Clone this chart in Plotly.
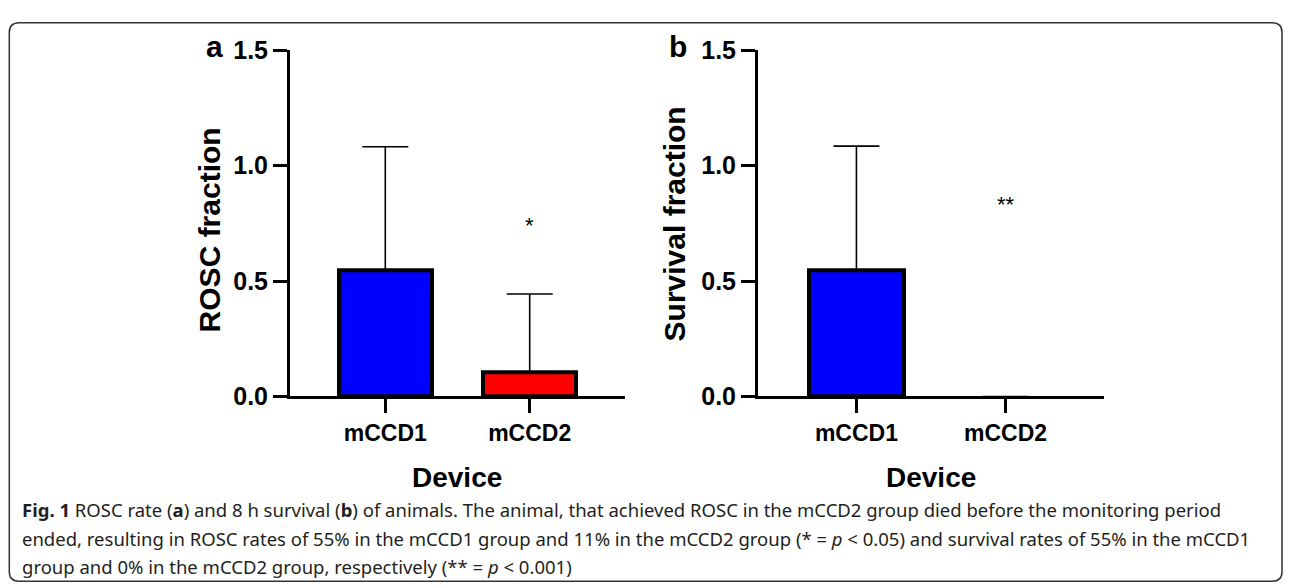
import plotly.graph_objects as go

# ---- data ----
categories = ["mCCD1", "mCCD2"]
rosc_mean = [0.545, 0.105]
rosc_sd = [0.537, 0.339]
surv_mean = [0.545, 0.0]
surv_sd = [0.54, 0.0]
bar_colors = ["#0000ff", "#ff0000"]
y_ticks = [0.0, 0.5, 1.0, 1.5]
sig_a = ("*", 1, 0.74)
sig_b = ("**", 1, 0.83)
caption_lines = [
    "<b>Fig. 1</b> ROSC rate (<b>a</b>) and 8 h survival (<b>b</b>) of animals. The animal, that achieved ROSC in the mCCD2 group died before the monitoring period",
    "ended, resulting in ROSC rates of 55% in the mCCD1 group and 11% in the mCCD2 group (* = <i>p</i> &lt; 0.05) and survival rates of 55% in the mCCD1",
    "group and 0% in the mCCD2 group, respectively (** = <i>p</i> &lt; 0.001)",
]

W, H = 1292, 588
AX_FONT = "Liberation Sans, Arial, sans-serif"
CAP_FONT = "Noto Sans, sans-serif"

# mapping from target screen pixels to paper fractions (as observed in the
# rendered picture: x offset ~6 px, y offset 20.5 px with 0.9575 scale)
OX, SX = 6.0, 1.0
OY, SY = 20.5, 0.9575

def fx(X):
    return ((X - OX) / SX) / W

def fy(Y):
    return 1 - ((Y - OY) / SY) / H

xpos = list(range(len(categories)))

def line_widths(vals):
    return [4 if v > 0 else 0 for v in vals]

def err_vals(means, sds):
    # no error bar where the group has no events
    return [s if m > 0 else None for m, s in zip(means, sds)]

fig = go.Figure()
fig.add_trace(go.Bar(
    x=xpos, y=rosc_mean, width=0.64,
    marker=dict(color=bar_colors, line=dict(color="black", width=line_widths(rosc_mean))),
    error_y=dict(type="data", array=err_vals(rosc_mean, rosc_sd), arrayminus=[0] * len(rosc_sd),
                 symmetric=False, color="black", thickness=1.6, width=23),
    xaxis="x", yaxis="y", showlegend=False,
))
fig.add_trace(go.Bar(
    x=xpos, y=surv_mean, width=0.64,
    marker=dict(color=bar_colors, line=dict(color="black", width=line_widths(surv_mean))),
    error_y=dict(type="data", array=err_vals(surv_mean, surv_sd), arrayminus=[0] * len(surv_sd),
                 symmetric=False, color="black", thickness=1.6, width=23),
    xaxis="x2", yaxis="y2", showlegend=False,
))

xcommon = dict(
    tickvals=xpos, ticktext=categories, range=[-0.66, 1.66],
    showline=True, linewidth=3, linecolor="black",
    ticks="outside", ticklen=14, tickwidth=3, tickcolor="black",
    tickfont=dict(family=AX_FONT, size=23, color="black", weight="bold"),
    showgrid=False, zeroline=False, fixedrange=True,
)
ycommon = dict(
    range=[0, 1.5], tickvals=y_ticks, tickformat=".1f",
    showline=True, linewidth=3, linecolor="black",
    ticks="outside", ticklen=14, tickwidth=3, tickcolor="black",
    tickfont=dict(family=AX_FONT, size=25, color="black", weight="bold"),
    showgrid=False, zeroline=False, fixedrange=True,
)
ydom = [fy(397), fy(49)]

fig.update_layout(
    width=W, height=H, autosize=False,
    margin=dict(l=0, r=0, t=0, b=0),
    paper_bgcolor="white", plot_bgcolor="white",
    xaxis=dict(domain=[fx(288), fx(623)], anchor="y", **xcommon),
    yaxis=dict(domain=ydom, anchor="x", **ycommon),
    xaxis2=dict(domain=[fx(756), fx(1102)], anchor="y2", **xcommon),
    yaxis2=dict(domain=ydom, anchor="x2", **ycommon),
    bargap=0,
)

def label(text, x, y, size, angle=0, xref="paper", yref="paper", family=AX_FONT):
    return dict(text=text, x=x, y=y, xref=xref, yref=yref, textangle=angle,
                xanchor="center", yanchor="middle", showarrow=False,
                font=dict(family=family, size=size, color="black"))

ann = [
    label("<b>a</b>", fx(212), fy(45), 30),
    label("<b>b</b>", fx(676), fy(45), 30),
    label("<b>ROSC fraction</b>", fx(207), fy(230), 30, -90),
    label("<b>Survival fraction</b>", fx(672), fy(224), 30, -90),
    label("<b>Device</b>", fx(455), fy(478), 28),
    label("<b>Device</b>", fx(929), fy(478), 28),
    label(sig_a[0], sig_a[1], sig_a[2], 22, xref="x", yref="y"),
    label(sig_b[0], sig_b[1], sig_b[2], 22, xref="x2", yref="y2"),
]
for i, (line, yy) in enumerate(zip(caption_lines, [511, 540, 568])):
    ann.append(dict(text=line, x=fx(18), y=fy(yy), xref="paper", yref="paper",
                    xanchor="left", yanchor="middle", showarrow=False,
                    font=dict(family=CAP_FONT, size=18.5, color="#231f20")))
fig.update_layout(annotations=ann)

# rounded frame around the figure and caption
def clampx(v):
    return min(max(v, 0.001), 0.999)

def clampy(v):
    return min(max(v, 0.0015), 0.9985)

fx0, fx1 = clampx(fx(7)), clampx(fx(1280))
fy0, fy1 = clampy(fy(7)), clampy(fy(586))
rx, ry = 10 / W, 10 / H
path = (f"M{fx0 + rx},{fy0} L{fx1 - rx},{fy0} "
        f"Q{fx1},{fy0} {fx1},{fy0 - ry} "
        f"L{fx1},{fy1 + ry} Q{fx1},{fy1} {fx1 - rx},{fy1} "
        f"L{fx0 + rx},{fy1} Q{fx0},{fy1} {fx0},{fy1 + ry} "
        f"L{fx0},{fy0 - ry} Q{fx0},{fy0} {fx0 + rx},{fy0} Z")
fig.add_shape(type="path", path=path, xref="paper", yref="paper",
              line=dict(color="#333333", width=1.5))

fig.write_html("out.html")
